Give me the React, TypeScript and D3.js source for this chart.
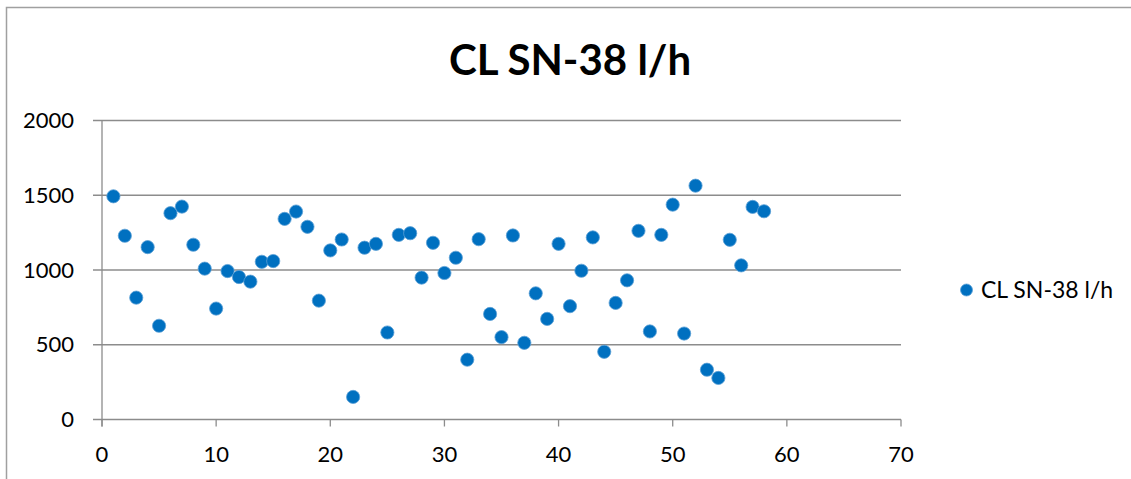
import React from "react";
import * as d3 from "d3";

// Sample index (1..58) and measured clearance in l/h
const sampleIndex: number[] = Array.from({ length: 58 }, (_, i) => i + 1);
const clearanceValues: number[] = [
  1493, 1229, 815, 1153, 627, 1380, 1424, 1169, 1009, 742,
  993, 953, 922, 1055, 1060, 1342, 1391, 1289, 795, 1131,
  1204, 151, 1149, 1175, 582, 1235, 1246, 949, 1182, 980,
  1082, 400, 1206, 706, 551, 1231, 513, 844, 673, 1175,
  758, 995, 1218, 453, 780, 931, 1262, 589, 1235, 1437,
  575, 1564, 333, 278, 1202, 1031, 1422, 1393,
];
const xTicks: number[] = [0, 10, 20, 30, 40, 50, 60, 70];
const yTicks: number[] = [0, 500, 1000, 1500, 2000];
const seriesName = "CL SN-38 l/h";
const chartTitle = "CL SN-38 l/h";

const W = 1131;
const H = 479;
const FONT = "Lato, 'Open Sans', sans-serif";
const GRID = "#8c8c8c";
const BLUE = "#0070C0";

export default function App() {
  const x = d3.scaleLinear().domain([0, 70]).range([102, 901]);
  const y = d3.scaleLinear().domain([0, 2000]).range([419.5, 120.5]);
  const points = sampleIndex.map((i, k) => ({ i, v: clearanceValues[k] }));

  return (
    <svg
      width={W}
      height={H}
      style={{ position: "absolute", left: 0, top: 0, background: "#fff" }}
    >
      {/* chart frame */}
      <path d={`M6.5,${H} V7.5 H${W}`} fill="none" stroke="#a0a0a0" strokeWidth={1.5} />

      <text
        x={570}
        y={75}
        textAnchor="middle"
        fontFamily={FONT}
        fontWeight={700}
        fontSize={42}
        fill="#000"
      >
        {chartTitle}
      </text>

      {/* horizontal gridlines and y ticks */}
      {yTicks.map((t) => (
        <g key={`y${t}`}>
          <line x1={93} x2={x(70)} y1={y(t)} y2={y(t)} stroke={GRID} strokeWidth={1.3} />
          <text
            x={74}
            y={y(t)}
            dy="0.35em"
            textAnchor="end"
            fontFamily={FONT}
            fontSize={22}
            fill="#000"
          >
            {t}
          </text>
        </g>
      ))}

      {/* y axis */}
      <line x1={x(0)} x2={x(0)} y1={y(2000)} y2={y(0) + 7} stroke={GRID} strokeWidth={1.3} />

      {/* x ticks */}
      {xTicks.map((t) => (
        <g key={`x${t}`}>
          <line x1={x(t)} x2={x(t)} y1={y(0)} y2={y(0) + 7} stroke={GRID} strokeWidth={1.3} />
          <text
            x={x(t)}
            y={462}
            textAnchor="middle"
            fontFamily={FONT}
            fontSize={22}
            fill="#000"
          >
            {t}
          </text>
        </g>
      ))}

      {/* markers */}
      {points.map((p) => (
        <circle
          key={p.i}
          cx={x(p.i)}
          cy={y(p.v)}
          r={6.6}
          fill={BLUE}
          stroke="#5a9fd6"
          strokeWidth={0.8}
        />
      ))}

      {/* legend */}
      <circle cx={966.5} cy={290} r={6} fill={BLUE} stroke="#5a9fd6" strokeWidth={0.8} />
      <text x={981} y={298} fontFamily={FONT} fontSize={23} fill="#000">
        {seriesName}
      </text>
    </svg>
  );
}
